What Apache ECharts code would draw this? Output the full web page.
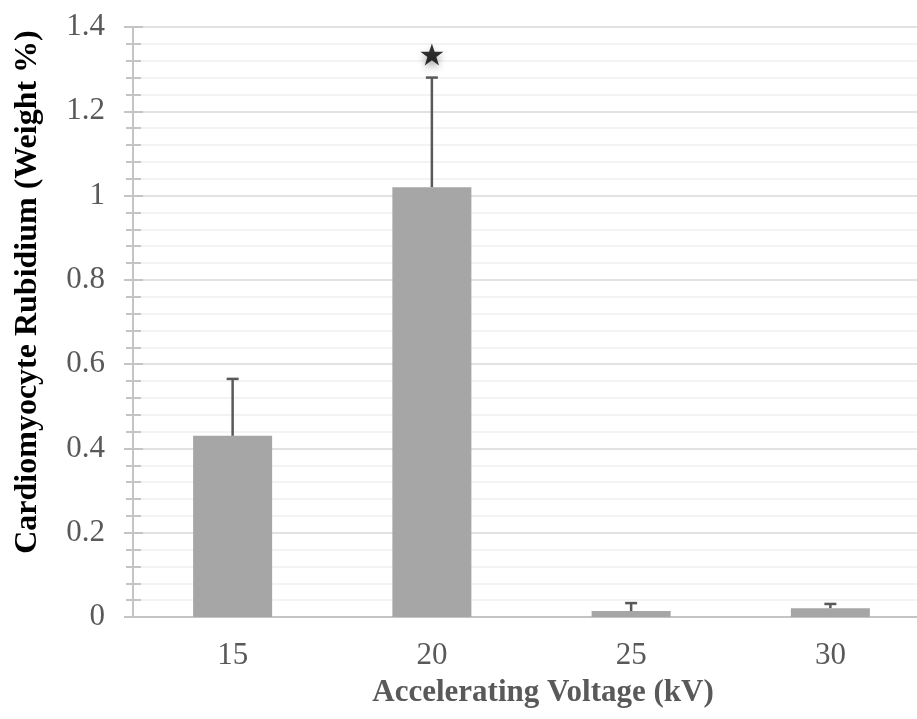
<!DOCTYPE html>
<html>
<head>
<meta charset="utf-8">
<script src="https://cdn.jsdelivr.net/npm/echarts@6/dist/echarts.min.js"></script>
<style>
html,body{margin:0;padding:0;background:#fff;overflow:hidden;}
#chart{width:930px;height:719px;}
</style>
</head>
<body>
<div id="chart"></div>
<script>
var categories = ['15', '20', '25', '30'];
var meanValues = [0.43, 1.02, 0.014, 0.021];
var errorPlus = [0.135, 0.26, 0.019, 0.010];
var starCategory = ['20'];
var starValue = [1.335];
var yTitle = 'Cardiomyocyte Rubidium (Weight %)';
var xTitle = 'Accelerating Voltage (kV)';

var FONT = '"Liberation Serif", "Times New Roman", serif';
var errData = categories.map(function (c, i) {
  return [i, meanValues[i], meanValues[i] + errorPlus[i]];
});
var starData = starCategory.map(function (c, i) { return [c, starValue[i]]; });

var chart = echarts.init(document.getElementById('chart'), null, {renderer: 'canvas'});
var yBase = {
  type: 'value', min: 0, max: 1.4, interval: 0.2,
  axisLine: {show: true, lineStyle: {color: '#c4c4c4', width: 2}}
};
var option = {
  animation: false,
  backgroundColor: '#ffffff',
  grid: {left: 133, top: 27, right: 0, bottom: 102, containLabel: false},
  xAxis: {
    type: 'category', data: categories,
    axisLine: {show: true, lineStyle: {color: '#c4c4c4', width: 2}},
    axisTick: {show: false},
    axisLabel: {fontFamily: FONT, fontSize: 31, color: '#595959', margin: 23}
  },
  yAxis: [
    Object.assign({}, yBase, {
      axisTick: {show: true, inside: false, length: 9, lineStyle: {color: '#c4c4c4', width: 2}},
      minorTick: {show: true, splitNumber: 5, length: 7, lineStyle: {color: '#c4c4c4', width: 2}},
      axisLabel: {fontFamily: FONT, fontSize: 31, color: '#595959', margin: 28,
        formatter: function (v) { return String(Math.round(v * 10) / 10); }},
      splitLine: {show: true, lineStyle: {color: '#d9d9d9', width: 1.5}},
      minorSplitLine: {show: true, lineStyle: {color: '#f0f0f0', width: 1.5}}
    }),
    Object.assign({}, yBase, {
      axisTick: {show: true, inside: true, length: 10, lineStyle: {color: '#c4c4c4', width: 2}},
      minorTick: {show: true, splitNumber: 5, length: 8, lineStyle: {color: '#c4c4c4', width: 2}},
      axisLabel: {show: false},
      splitLine: {show: false},
      minorSplitLine: {show: false},
      position: 'left'
    })
  ],
  series: [
    {
      type: 'bar', data: meanValues, barWidth: 79,
      itemStyle: {color: '#a6a6a6'}, z: 2
    },
    {
      type: 'custom', data: errData, z: 3,
      renderItem: function (params, api) {
        var x = api.value(0);
        var p0 = api.coord([x, api.value(1)]);
        var p1 = api.coord([x, api.value(2)]);
        var hw = 6;
        return {
          type: 'group',
          children: [
            {type: 'line', shape: {x1: p0[0], y1: p0[1], x2: p1[0], y2: p1[1]},
             style: {stroke: '#595959', lineWidth: 2.5}},
            {type: 'line', shape: {x1: p1[0] - hw, y1: p1[1], x2: p1[0] + hw, y2: p1[1]},
             style: {stroke: '#595959', lineWidth: 2.5}}
          ]
        };
      }
    },
    {
      type: 'scatter', data: starData, z: 4,
      symbol: 'path://M50,0 L61.8,35.1 L99,35.1 L69.1,57.3 L80.3,92.7 L50,71 L19.7,92.7 L30.9,57.3 L1,35.1 L38.2,35.1 Z',
      symbolSize: [23, 22],
      itemStyle: {color: '#000000', shadowBlur: 7, shadowColor: 'rgba(0,0,0,0.4)', shadowOffsetY: 4}
    }
  ],
  graphic: [
    {
      type: 'text', x: 543, y: 693,
      style: {text: xTitle, fontFamily: FONT, fontSize: 31, fontWeight: 'bold', fill: '#595959',
        align: 'center', verticalAlign: 'middle'}
    },
    {
      type: 'text', x: 28, y: 292, rotation: Math.PI / 2,
      style: {text: yTitle, fontFamily: FONT, fontSize: 32, fontWeight: 'bold', fill: '#000000',
        align: 'center', verticalAlign: 'middle'}
    }
  ]
};
chart.setOption(option);
</script>
</body>
</html>
